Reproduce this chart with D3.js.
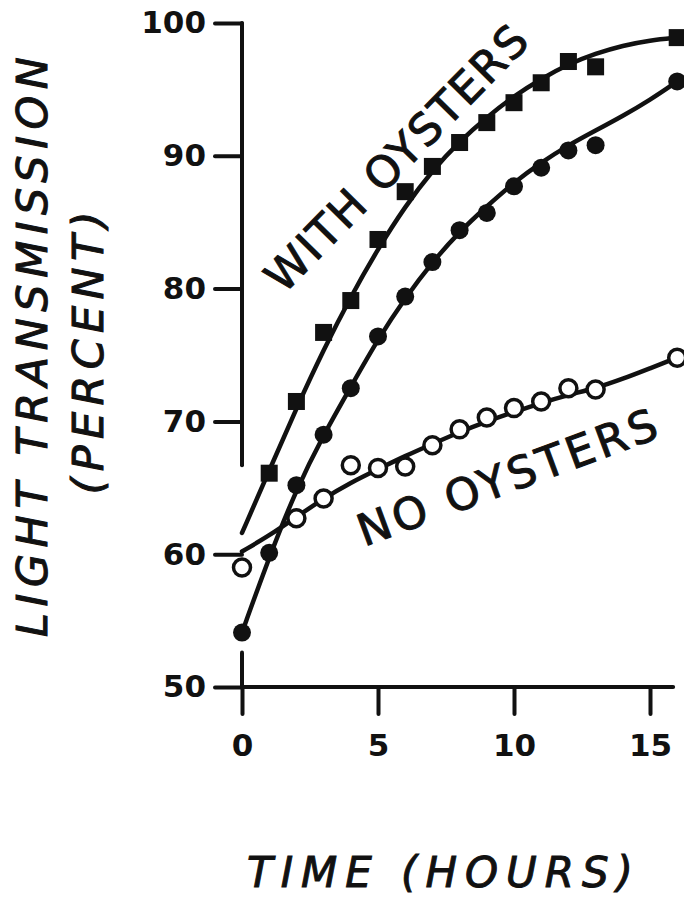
<!DOCTYPE html>
<html>
<head>
<meta charset="utf-8">
<script src="https://cdn.jsdelivr.net/npm/d3@7"></script>
<style>
  body { margin: 0; background: #fff; }
  text { font-family: 'DejaVu Sans', sans-serif; fill: #111; }
</style>
</head>
<body>
<div id="chart"></div>
<script>
// measured points
const withHours = [1, 2, 3, 4, 5, 6, 7, 8, 9, 10, 11, 12, 13, 16]
const withValues = [66.1, 71.5, 76.7, 79.1, 83.7, 87.3, 89.2, 91.0, 92.5, 94.0, 95.5, 97.1, 96.7, 98.9]

const midHours = [0, 1, 2, 3, 4, 5, 6, 7, 8, 9, 10, 11, 12, 13, 16]
const midValues = [54.1, 60.1, 65.2, 69.0, 72.5, 76.4, 79.4, 82.0, 84.4, 85.7, 87.7, 89.1, 90.4, 90.8, 95.6]

const noHours = [0, 2, 3, 4, 5, 6, 7, 8, 9, 10, 11, 12, 13, 16]
const noValues = [59.0, 62.7, 64.2, 66.7, 66.5, 66.6, 68.2, 69.4, 70.3, 71.0, 71.5, 72.5, 72.4, 74.8]

// hand-drawn fitted curves
const fitHours = [0, 1, 2, 3, 4, 5, 6, 7, 8, 9, 10, 11, 12, 13, 14, 15, 16]
const withFit = [61.6, 66.3, 71.0, 75.4, 79.4, 83.0, 86.2, 88.9, 91.1, 92.9, 94.5, 95.8, 96.9, 97.7, 98.3, 98.7, 98.9]
const midFit = [54.1, 59.8, 64.9, 69.0, 72.6, 76.2, 79.3, 82.0, 84.3, 86.2, 88.0, 89.5, 90.8, 91.9, 93.0, 94.2, 95.6]
const noFit = [60.2, 61.4, 62.8, 64.2, 65.4, 66.4, 67.4, 68.3, 69.2, 70.0, 70.7, 71.4, 72.0, 72.5, 73.2, 74.0, 74.8]

const xTicks = [0, 5, 10, 15]
const yTicks = [50, 60, 70, 80, 90, 100]

const width = 684, height = 899

const svg = d3.select('#chart').append('svg')
    .attr('width', width)
    .attr('height', height)
svg.append('rect').attr('width', width).attr('height', height).attr('fill', '#fff')

const x = d3.scaleLinear().domain([0, 15]).range([242, 650])
const y = d3.scaleLinear().domain([50, 100]).range([687, 23])

// axes
const yAxis = svg.append('g')
    .attr('transform', `translate(${x(0)},0)`)
    .call(d3.axisLeft(y).tickValues(yTicks).tickSize(27).tickPadding(9))
const xAxis = svg.append('g')
    .attr('transform', `translate(0,${y(50)})`)
    .call(d3.axisBottom(x).tickValues(xTicks).tickSize(27).tickPadding(20))

;[yAxis, xAxis].forEach(g => {
    g.select('.domain').remove()
    g.selectAll('.tick line').attr('stroke', '#111').attr('stroke-width', 4).attr('stroke-linecap', 'round')
    g.selectAll('.tick text')
        .style('font-size', '31px')
        .style('font-weight', 'bold')
        .attr('fill', '#111')
})

const spine = [
    [[0, 100], [0, 66.7]],
    [[0, 52.6], [0, 50]],
    [[0, 50], [15.85, 50]]
]
svg.selectAll('.spine')
    .data(spine)
    .enter()
    .append('line')
    .attr('x1', d => x(d[0][0]))
    .attr('y1', d => y(d[0][1]))
    .attr('x2', d => x(d[1][0]))
    .attr('y2', d => y(d[1][1]))
    .attr('stroke', '#111')
    .attr('stroke-width', 4)
    .attr('stroke-linecap', 'round')

// fitted curves
const line = d3.line()
    .x(d => x(d[0]))
    .y(d => y(d[1]))
    .curve(d3.curveBasis)

;[withFit, midFit, noFit].forEach(vals => {
    svg.append('path')
        .datum(fitHours.map((h, i) => [h, vals[i]]))
        .attr('d', line)
        .attr('fill', 'none')
        .attr('stroke', '#111')
        .attr('stroke-width', 4.5)
        .attr('stroke-linecap', 'round')
})

// markers
svg.selectAll('.open')
    .data(noHours.map((h, i) => [h, noValues[i]]))
    .enter()
    .append('circle')
    .attr('cx', d => x(d[0]))
    .attr('cy', d => y(d[1]))
    .attr('r', 8.5)
    .attr('fill', '#fff')
    .attr('stroke', '#111')
    .attr('stroke-width', 3.5)

svg.selectAll('.dot')
    .data(midHours.map((h, i) => [h, midValues[i]]))
    .enter()
    .append('circle')
    .attr('cx', d => x(d[0]))
    .attr('cy', d => y(d[1]))
    .attr('r', 9)
    .attr('fill', '#111')

svg.selectAll('.sq')
    .data(withHours.map((h, i) => [h, withValues[i]]))
    .enter()
    .append('rect')
    .attr('x', d => x(d[0]) - 8.5)
    .attr('y', d => y(d[1]) - 8.5)
    .attr('width', 17)
    .attr('height', 17)
    .attr('fill', '#111')

// labels
function label(txt, transform, len, size, italic) {
    return svg.append('text')
        .attr('transform', transform)
        .attr('text-anchor', 'middle')
        .attr('textLength', len)
        .attr('lengthAdjust', 'spacing')
        .attr('stroke', '#111')
        .attr('stroke-width', 1)
        .style('font-size', size + 'px')
        .style('font-style', italic ? 'oblique' : 'normal')
        .text(txt)
}

label('WITH OYSTERS', 'translate(396,158) rotate(-45.5)', 353, 44, false).attr('dy', '0.36em')
label('NO OYSTERS', 'translate(507,477) rotate(-20.3)', 316, 44, false).attr('dy', '0.36em')
label('LIGHT TRANSMISSION', 'translate(47,347) rotate(-90)', 580, 43, true)
label('(PERCENT)', 'translate(103,353) rotate(-90)', 283, 43, true)
label('TIME (HOURS)', 'translate(440,887)', 386, 42, true)
</script>
</body>
</html>
